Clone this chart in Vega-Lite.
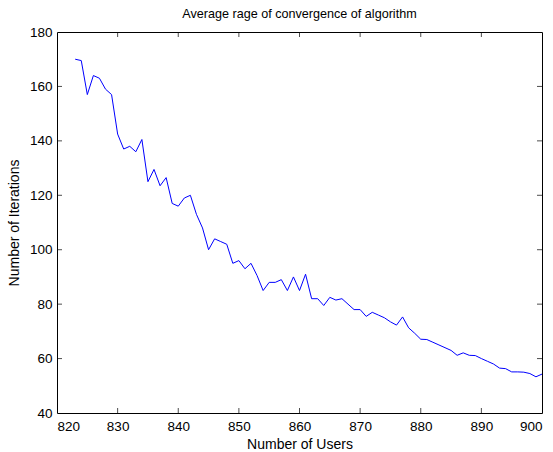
{
  "$schema": "https://vega.github.io/schema/vega-lite/v6.json",
  "width": 485,
  "height": 381,
  "autosize": "none",
  "padding": {"left": 57, "top": 32, "right": 11, "bottom": 39},
  "background": "white",
  "title": {"text": "Average rage of convergence of algorithm", "font": "Liberation Sans", "fontSize": 12.6, "fontWeight": "normal", "color": "#000", "offset": 4},
  "config": {
    "view": {"stroke": "#000", "strokeWidth": 1},
    "axis": {"domain": false, "ticks": false, "labelColor": "#000", "titleColor": "#000", "labelFont": "Liberation Sans", "titleFont": "Liberation Sans", "labelFontSize": 13.5, "titleFontSize": 14, "titleFontWeight": "normal", "grid": false}
  },
  "datasets": {
    "series": [
      {"users": 823, "iter": 170}, {"users": 824, "iter": 169.5}, {"users": 825, "iter": 157}, {"users": 826, "iter": 164},
      {"users": 827, "iter": 163}, {"users": 828, "iter": 159}, {"users": 829, "iter": 157}, {"users": 830, "iter": 142.5},
      {"users": 831, "iter": 137}, {"users": 832, "iter": 138}, {"users": 833, "iter": 136}, {"users": 834, "iter": 140.5},
      {"users": 835, "iter": 125}, {"users": 836, "iter": 129.5}, {"users": 837, "iter": 123.5}, {"users": 838, "iter": 126.5},
      {"users": 839, "iter": 117}, {"users": 840, "iter": 116}, {"users": 841, "iter": 119}, {"users": 842, "iter": 120},
      {"users": 843, "iter": 113}, {"users": 844, "iter": 108}, {"users": 845, "iter": 100}, {"users": 846, "iter": 104},
      {"users": 847, "iter": 103}, {"users": 848, "iter": 102}, {"users": 849, "iter": 95}, {"users": 850, "iter": 96},
      {"users": 851, "iter": 93}, {"users": 852, "iter": 95}, {"users": 853, "iter": 90.5}, {"users": 854, "iter": 85},
      {"users": 855, "iter": 88}, {"users": 856, "iter": 88}, {"users": 857, "iter": 89}, {"users": 858, "iter": 85},
      {"users": 859, "iter": 90}, {"users": 860, "iter": 85}, {"users": 861, "iter": 91}, {"users": 862, "iter": 82},
      {"users": 863, "iter": 82}, {"users": 864, "iter": 79.5}, {"users": 865, "iter": 82.5}, {"users": 866, "iter": 81.5},
      {"users": 867, "iter": 82}, {"users": 868, "iter": 80}, {"users": 869, "iter": 78}, {"users": 870, "iter": 78},
      {"users": 871, "iter": 75.5}, {"users": 872, "iter": 77}, {"users": 873, "iter": 76}, {"users": 874, "iter": 75},
      {"users": 875, "iter": 73.5}, {"users": 876, "iter": 72.3}, {"users": 877, "iter": 75.3}, {"users": 878, "iter": 71.3},
      {"users": 879, "iter": 69.3}, {"users": 880, "iter": 67.1}, {"users": 881, "iter": 67}, {"users": 882, "iter": 66},
      {"users": 883, "iter": 65}, {"users": 884, "iter": 64}, {"users": 885, "iter": 63}, {"users": 886, "iter": 61.2},
      {"users": 887, "iter": 62.1}, {"users": 888, "iter": 61.2}, {"users": 889, "iter": 61.1}, {"users": 890, "iter": 60},
      {"users": 891, "iter": 59}, {"users": 892, "iter": 58}, {"users": 893, "iter": 56.5}, {"users": 894, "iter": 56.3},
      {"users": 895, "iter": 55.1}, {"users": 896, "iter": 55.1}, {"users": 897, "iter": 55}, {"users": 898, "iter": 54.5},
      {"users": 899, "iter": 53.3}, {"users": 900, "iter": 54.3}
    ],
    "xticks": [{"v": 830}, {"v": 840}, {"v": 850}, {"v": 860}, {"v": 870}, {"v": 880}, {"v": 890}],
    "yticks": [{"v": 60}, {"v": 80}, {"v": 100}, {"v": 120}, {"v": 140}, {"v": 160}]
  },
  "layer": [
    {
      "data": {"name": "series"},
      "mark": {"type": "line", "color": "#0000ff", "strokeWidth": 1, "interpolate": "linear"},
      "encoding": {
        "x": {"field": "users", "type": "quantitative", "scale": {"domain": [820, 900], "nice": false, "zero": false}, "axis": {"title": "Number of Users", "values": [820, 830, 840, 850, 860, 870, 880, 890, 900], "labelPadding": 6, "titlePadding": 5}},
        "y": {"field": "iter", "type": "quantitative", "scale": {"domain": [40, 180], "nice": false, "zero": false}, "axis": {"title": "Number of Iterations", "values": [40, 60, 80, 100, 120, 140, 160, 180], "labelPadding": 5, "titlePadding": 8}}
      }
    },
    {
      "data": {"name": "xticks"},
      "mark": {"type": "tick", "orient": "vertical", "color": "#000", "size": 5, "thickness": 1, "yOffset": -2.5},
      "encoding": {"x": {"field": "v", "type": "quantitative"}, "y": {"datum": 40, "type": "quantitative"}}
    },
    {
      "data": {"name": "xticks"},
      "mark": {"type": "tick", "orient": "vertical", "color": "#000", "size": 5, "thickness": 1, "yOffset": 2.5},
      "encoding": {"x": {"field": "v", "type": "quantitative"}, "y": {"datum": 180, "type": "quantitative"}}
    },
    {
      "data": {"name": "yticks"},
      "mark": {"type": "tick", "orient": "horizontal", "color": "#000", "size": 5, "thickness": 1, "xOffset": 2.5},
      "encoding": {"y": {"field": "v", "type": "quantitative"}, "x": {"datum": 820, "type": "quantitative"}}
    },
    {
      "data": {"name": "yticks"},
      "mark": {"type": "tick", "orient": "horizontal", "color": "#000", "size": 5, "thickness": 1, "xOffset": -2.5},
      "encoding": {"y": {"field": "v", "type": "quantitative"}, "x": {"datum": 900, "type": "quantitative"}}
    }
  ]
}
